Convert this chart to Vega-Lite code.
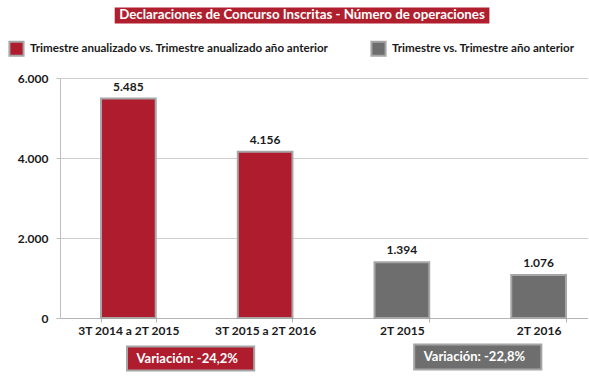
{
  "$schema": "https://vega.github.io/schema/vega-lite/v6.json",
  "width": 528,
  "height": 240,
  "autosize": {"type": "none"},
  "padding": {"left": 60, "top": 78, "right": 0, "bottom": 61},
  "background": "white",
  "title": {
    "text": "Declaraciones de Concurso Inscritas - Número de operaciones",
    "color": "white",
    "font": "Lato",
    "fontSize": 13.3,
    "fontWeight": "bold",
    "anchor": "middle",
    "frame": "group",
    "baseline": "middle",
    "dx": -22,
    "dy": 25
  },
  "datasets": {
    "bars": [
      {"periodo": "3T 2014 a 2T 2015", "operaciones": 5485, "serie": "Trimestre anualizado vs. Trimestre anualizado año anterior"},
      {"periodo": "3T 2015 a 2T 2016", "operaciones": 4156, "serie": "Trimestre anualizado vs. Trimestre anualizado año anterior"},
      {"periodo": "2T 2015", "operaciones": 1394, "serie": "Trimestre vs. Trimestre año anterior"},
      {"periodo": "2T 2016", "operaciones": 1076, "serie": "Trimestre vs. Trimestre año anterior"}
    ],
    "boxes": [
      {"caja": "titulo", "x0": 0.40, "x1": 3.14, "y0": 7365, "y1": 7765},
      {"caja": "var1", "x0": 0.49, "x1": 1.42, "y0": -1313, "y1": -713},
      {"caja": "var2", "x0": 2.59, "x1": 3.52, "y0": -1288, "y1": -663}
    ],
    "notes": [
      {"texto": "Variación:  -24,2%", "xp": 0.56, "yp": -1013},
      {"texto": "Variación: -22,8%", "xp": 2.66, "yp": -976}
    ]
  },
  "layer": [
    {
      "data": {"name": "bars"},
      "mark": {"type": "bar", "stroke": "#A6A6A6", "strokeWidth": 2},
      "encoding": {
        "x": {
          "field": "periodo", "type": "nominal", "sort": null,
          "scale": {"range": [0, 547], "paddingInner": 0.6, "paddingOuter": 0.3},
          "axis": {"title": null, "labelAngle": 0, "domainColor": "#B5B5B5", "tickColor": "#B5B5B5", "tickBand": "extent", "tickSize": 4, "labelPadding": 3, "labelFont": "Lato", "labelFontSize": 12, "labelFontWeight": "bold", "labelColor": "#1A1A1A", "grid": false}
        },
        "y": {
          "field": "operaciones", "type": "quantitative",
          "scale": {"domain": [0, 6000], "nice": false, "zero": true},
          "axis": {"title": null, "values": [0, 1000, 2000, 3000, 4000, 5000, 6000], "tickCount": 6, "labelOverlap": false, "labelExpr": "replace(format(datum.value, ','), ',', '.')", "grid": true, "gridColor": "#CFCFCF", "domainColor": "#BFBFBF", "tickColor": "#BFBFBF"}
        },
        "fill": {
          "field": "serie", "type": "nominal",
          "scale": {"domain": ["Trimestre anualizado vs. Trimestre anualizado año anterior", "Trimestre vs. Trimestre año anterior"], "range": ["#AE1C2E", "#6E6E6E"]},
          "legend": {"title": null, "orient": "none", "legendX": -52, "legendY": -38, "direction": "horizontal", "symbolType": "square", "symbolSize": 200, "symbolStrokeColor": "#A6A6A6", "symbolStrokeWidth": 2, "symbolOpacity": 1, "labelFont": "Lato", "labelFontSize": 11.6, "labelFontWeight": "bold", "labelColor": "#1A1A1A", "labelLimit": 500, "labelOffset": 5, "columnPadding": 38}
        }
      }
    },
    {
      "data": {"name": "bars"},
      "transform": [{"calculate": "replace(format(datum.operaciones, ','), ',', '.')", "as": "etiqueta"}],
      "mark": {"type": "text", "baseline": "bottom", "dy": -5, "font": "Lato", "fontSize": 12, "fontWeight": "bold", "color": "#1A1A1A"},
      "encoding": {
        "x": {"field": "periodo", "type": "nominal", "sort": null, "scale": {"range": [0, 547], "paddingInner": 0.6, "paddingOuter": 0.3}, "axis": null},
        "y": {"field": "operaciones", "type": "quantitative"},
        "text": {"field": "etiqueta"}
      }
    },
    {
      "data": {"name": "boxes"},
      "transform": [{"filter": "datum.caja === 'titulo'"}],
      "mark": {"type": "rect", "color": "#B01F2E"},
      "encoding": {
        "x": {"field": "x0", "type": "quantitative", "scale": {"domain": [0, 4], "range": [0, 547]}, "axis": null},
        "x2": {"field": "x1"},
        "y": {"field": "y0", "type": "quantitative"},
        "y2": {"field": "y1"}
      }
    },
    {
      "data": {"name": "boxes"},
      "transform": [{"filter": "datum.caja !== 'titulo'"}],
      "mark": {"type": "rect", "stroke": "#A6A6A6", "strokeWidth": 2},
      "encoding": {
        "x": {"field": "x0", "type": "quantitative", "scale": {"domain": [0, 4], "range": [0, 547]}, "axis": null},
        "x2": {"field": "x1"},
        "y": {"field": "y0", "type": "quantitative"},
        "y2": {"field": "y1"},
        "fill": {"field": "caja", "type": "nominal", "scale": {"domain": ["var1", "var2"], "range": ["#AE1C2E", "#6E6E6E"]}, "legend": null}
      }
    },
    {
      "data": {"name": "notes"},
      "mark": {"type": "text", "align": "left", "baseline": "middle", "color": "white", "font": "Lato", "fontSize": 13, "fontWeight": "bold"},
      "encoding": {
        "x": {"field": "xp", "type": "quantitative", "scale": {"domain": [0, 4], "range": [0, 547]}, "axis": null},
        "y": {"field": "yp", "type": "quantitative"},
        "text": {"field": "texto"}
      }
    }
  ],
  "resolve": {"scale": {"x": "independent", "fill": "independent"}},
  "config": {
    "axisY": {"labelOverlap": false, "domain": true, "ticks": true, "tickSize": 4, "labelPadding": 8, "grid": true, "labelFont": "Lato", "labelFontSize": 12, "labelFontWeight": "bold", "labelColor": "#1A1A1A"},
    "view": {"stroke": null}
  }
}
